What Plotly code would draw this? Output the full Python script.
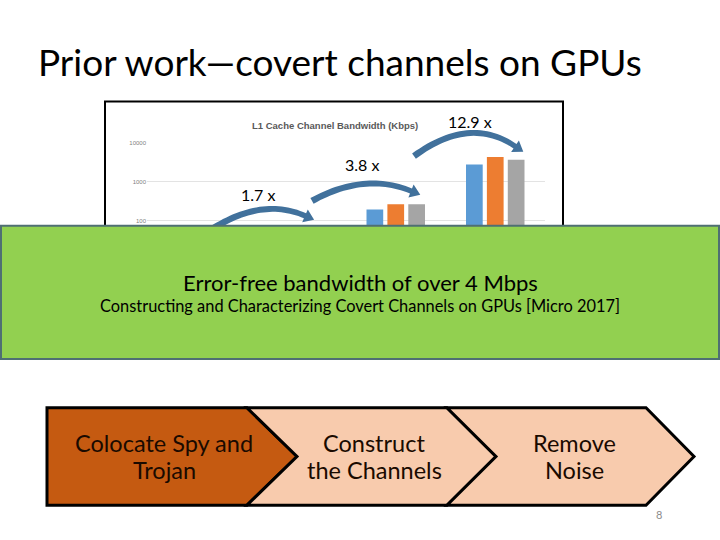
import math
import plotly.graph_objects as go

# ---- data ----
categories = ["Baseline", "Synchronized", "Multi-bit", "Parallel"]
series_names = ["Kepler", "Maxwell", "Pascal"]
kepler = [30, 51, 195, 2840]
maxwell = [41, 70, 268, 4380]
pascal = [41, 70, 268, 3730]
bar_colors = ["#5B9BD5", "#ED7D31", "#A5A5A5"]
speedup_labels = ["1.7 x", "3.8 x", "12.9 x"]
y_ticks = [10, 100, 1000, 10000]

W, H = 720, 540
FONT = "Lato"


def px(x):
    return x / W


def py(y):
    return 1 - y / H


fig = go.Figure()
for name, vals, col in zip(series_names, [kepler, maxwell, pascal], bar_colors):
    fig.add_trace(go.Bar(x=categories, y=vals, name=name, marker_color=col,
                         marker_line_width=0, xaxis="x", yaxis="y"))

# overlay pixel axis for decorations
fig.add_trace(go.Scatter(x=[0], y=[0], mode="markers", marker_opacity=0,
                         xaxis="x2", yaxis="y2", showlegend=False, hoverinfo="skip"))

shapes = []
# chart frame (paper-referenced, below everything)
shapes.append(dict(type="rect", xref="paper", yref="paper", x0=px(105), y0=py(335),
                   x1=px(563), y1=py(99), fillcolor="white",
                   line=dict(color="black", width=2), layer="below"))


def bez(p0, p1, p2, t):
    return ((1 - t) ** 2 * p0[0] + 2 * (1 - t) * t * p1[0] + t ** 2 * p2[0],
            (1 - t) ** 2 * p0[1] + 2 * (1 - t) * t * p1[1] + t ** 2 * p2[1])


def arrow_path(p0, mid, p2, t0=6.5, t1=5.5, head_w=14, head_l=10):
    p1 = (2 * mid[0] - 0.5 * (p0[0] + p2[0]), 2 * mid[1] - 0.5 * (p0[1] + p2[1]))
    n = 30
    upper, lower = [], []
    for i in range(n + 1):
        t = i / n
        x, y = bez(p0, p1, p2, t)
        dx = 2 * (1 - t) * (p1[0] - p0[0]) + 2 * t * (p2[0] - p1[0])
        dy = 2 * (1 - t) * (p1[1] - p0[1]) + 2 * t * (p2[1] - p1[1])
        L = math.hypot(dx, dy)
        nx, ny = -dy / L, dx / L
        th = (t0 + (t1 - t0) * t) / 2
        upper.append((x + nx * th, y + ny * th))
        lower.append((x - nx * th, y - ny * th))
    dx, dy = p2[0] - p1[0], p2[1] - p1[1]
    L = math.hypot(dx, dy)
    ux, uy = dx / L, dy / L
    nx, ny = -uy, ux
    tip = (p2[0] + ux * head_l, p2[1] + uy * head_l)
    hA = (p2[0] + nx * head_w / 2, p2[1] + ny * head_w / 2)
    hB = (p2[0] - nx * head_w / 2, p2[1] - ny * head_w / 2)
    pts = upper + [hA, tip, hB] + lower[::-1]
    return "M " + " L ".join(f"{x:.1f},{y:.1f}" for x, y in pts) + " Z"


arrow_specs = [((211, 228), (260, 208), (305, 214)),
               ((312, 199), (363, 182), (411, 189)),
               ((414, 154), (467, 131), (515, 144))]
for a in arrow_specs:
    shapes.append(dict(type="path", xref="x2", yref="y2", path=arrow_path(*a),
                       fillcolor="#41719C", line=dict(width=0), layer="above"))

# green box
shapes.append(dict(type="rect", xref="x2", yref="y2", x0=1, y0=224, x1=719, y1=358,
                   fillcolor="#92D050", line=dict(color="#4F6F73", width=2), layer="above"))

# chevrons
chev = [
    ("M 47,407 L 247,407 L 297,456 L 247,505 L 47,505 Z", "#C55A11"),
    ("M 247,407 L 447,407 L 496,456 L 447,505 L 247,505 L 297,456 Z", "#F8CBAD"),
    ("M 447,407 L 646,407 L 694,456 L 646,505 L 447,505 L 496,456 Z", "#F8CBAD"),
]
for p, c in chev:
    shapes.append(dict(type="path", xref="x2", yref="y2", path=p, fillcolor=c,
                       line=dict(color="black", width=3), layer="above"))

ann = []


def text(x, y, s, size, color="black", xanchor="center", family=FONT, bold=False):
    ann.append(dict(x=x, y=y, xref="x2", yref="y2", text=(f"<b>{s}</b>" if bold else s),
                    showarrow=False, xanchor=xanchor, yanchor="middle",
                    font=dict(family=family, size=size, color=color)))


text(36, 59, "Prior work\u2014covert channels on GPUs", 37, xanchor="left")
text(335, 123, "L1 Cache Channel Bandwidth (Kbps)", 9.5, color="#595959", bold=True,
     family="Liberation Sans")
for lab, (x, y) in zip(speedup_labels, [(258, 193), (362, 162), (470, 119)]):
    text(x, y, lab, 16)
text(360, 281, "Error-free bandwidth of over 4 Mbps", 22)
text(360, 304, "Constructing and Characterizing Covert Channels on GPUs [Micro 2017]", 16.4)
chev_lines = [("Colocate Spy and", "Trojan", 164), ("Construct", "the Channels", 374),
              ("Remove", "Noise", 574)]
for l1, l2, cx in chev_lines:
    text(cx, 442, l1, 23.5, color="#1A0A00")
    text(cx, 470, l2, 23.5, color="#1A0A00")
text(659, 514, "8", 11, color="#8C8C8C")

fig.update_layout(
    width=W, height=H, autosize=False,
    margin=dict(l=0, r=0, t=0, b=0),
    paper_bgcolor="white", plot_bgcolor="rgba(0,0,0,0)",
    showlegend=False,
    barmode="group", bargap=0.37, bargroupgap=0.2,
    xaxis=dict(domain=[px(147), px(545)], showgrid=False, showline=False, ticks="",
               showticklabels=False, anchor="y"),
    yaxis=dict(domain=[py(297), py(141)], type="log", range=[0, 4], tickvals=y_ticks,
               ticktext=[str(v) for v in y_ticks], showgrid=True, gridcolor="#E3E3E3",
               gridwidth=1, zeroline=False, showline=False, ticks="",
               tickfont=dict(size=6, color="#7F7F7F", family="Liberation Sans"),
               anchor="x"),
    xaxis2=dict(domain=[0, 1], range=[0, W], visible=False, anchor="y2"),
    yaxis2=dict(domain=[0, 1], range=[H, 0], visible=False, anchor="x2"),
    shapes=shapes, annotations=ann,
)

fig.write_html("out.html", config={"displayModeBar": False},
               post_script="document.body.style.margin='0';document.body.style.overflow='hidden';")
